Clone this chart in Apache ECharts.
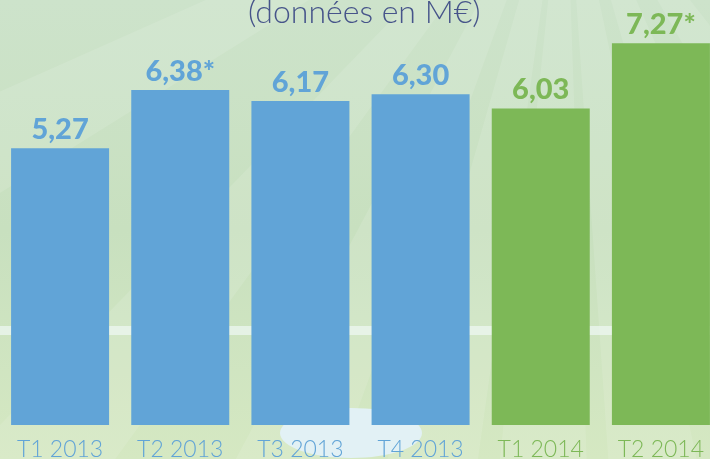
<!DOCTYPE html>
<html>
<head>
<meta charset="utf-8">
<script src="https://cdn.jsdelivr.net/npm/echarts@6/dist/echarts.min.js"></script>
<style>
  html, body { margin: 0; padding: 0; }
  #chart { width: 710px; height: 459px; }
</style>
</head>
<body>
<div id="chart"></div>
<script>
// quarters and values (M€)
const categories = ["T1 2013", "T2 2013", "T3 2013", "T4 2013", "T1 2014", "T2 2014"];
const values = [5.27, 6.38, 6.17, 6.30, 6.03, 7.27];
const valueLabels = ["5,27", "6,38*", "6,17", "6,30", "6,03", "7,27*"];
const barColors = ["#61a4d7", "#61a4d7", "#61a4d7", "#61a4d7", "#7db857", "#7db857"];
const title = "(données en M€)";

const chart = echarts.init(document.getElementById("chart"));

// background rays from a point above the top edge
const rayOrigin = [565, -160];
const rayAngles = [-62, -40, -24, -12, -2, 8, 20, 34, 52];
const rays = rayAngles.map((a) => {
  const r = 1400;
  const w = 4;
  const p1 = [rayOrigin[0] + r * Math.sin(((a - w) * Math.PI) / 180), rayOrigin[1] + r * Math.cos(((a - w) * Math.PI) / 180)];
  const p2 = [rayOrigin[0] + r * Math.sin(((a + w) * Math.PI) / 180), rayOrigin[1] + r * Math.cos(((a + w) * Math.PI) / 180)];
  return {
    type: "polygon",
    silent: true,
    z: -9,
    shape: { points: [rayOrigin, p1, p2] },
    style: { fill: "rgba(255,255,255,0.11)" },
  };
});

const option = {
  animation: false,
  backgroundColor: "#cde3c7",
  graphic: [
    {
      type: "rect",
      silent: true,
      z: -10,
      shape: { x: 0, y: 0, width: 710, height: 459 },
      style: {
        fill: {
          type: "linear", x: 0, y: 0, x2: 0, y2: 1,
          colorStops: [
            { offset: 0, color: "#cde3cb" },
            { offset: 0.5, color: "#c8e0bf" },
            { offset: 1, color: "#d5e8c2" },
          ],
        },
      },
    },
    ...rays,
    {
      type: "rect",
      silent: true,
      z: -8,
      shape: { x: 0, y: 326, width: 710, height: 9 },
      style: { fill: "rgba(240,248,245,0.7)" },
    },
    {
      type: "ellipse",
      silent: true,
      z: -8,
      shape: { cx: 351, cy: 433, rx: 71, ry: 25 },
      style: { fill: "#e2f1f5" },
    },
    {
      type: "text",
      silent: true,
      left: 248,
      top: -3,
      style: {
        text: title,
        font: "300 32px Lato, 'Open Sans', sans-serif",
        fill: "#46548a",
      },
    },
  ],
  grid: { left: 0, top: 5, width: 721, bottom: 34, outerBoundsMode: "none" },
  xAxis: {
    type: "category",
    data: categories,
    axisLine: { show: false },
    axisTick: { show: false },
    axisLabel: {
      margin: 13,
      fontFamily: "Lato, 'Open Sans', sans-serif",
      fontWeight: 300,
      fontSize: 23,
      color: (val, idx) => barColors[idx],
    },
  },
  yAxis: {
    type: "value",
    min: 0,
    max: 8,
    show: false,
    splitLine: { show: false },
  },
  series: [
    {
      type: "bar",
      barWidth: 98,
      data: values.map((v, i) => ({
        value: v,
        itemStyle: { color: barColors[i] },
        label: { color: barColors[i] },
      })),
      label: {
        show: true,
        position: "top",
        distance: 4,
        fontFamily: "Lato, 'Open Sans', sans-serif",
        fontWeight: 900,
        fontSize: 29,
        formatter: (p) => valueLabels[p.dataIndex],
      },
    },
  ],
};

chart.setOption(option);
</script>
</body>
</html>
